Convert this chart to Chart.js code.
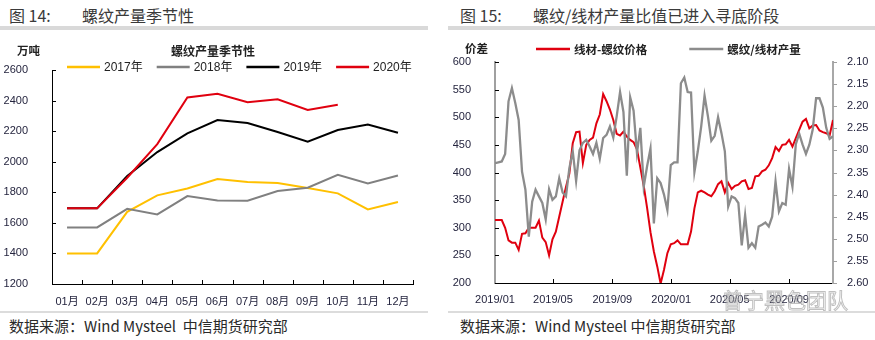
<!DOCTYPE html>
<html><head><meta charset="utf-8">
<script src="https://cdn.jsdelivr.net/npm/chart.js@4.4.1/dist/chart.umd.min.js"></script>
<style>
body{margin:0;background:#fff;}
#wrap{position:relative;width:875px;height:340px;overflow:hidden;font-family:'Noto Sans CJK SC','Noto Sans',sans-serif;}
.t{position:absolute;white-space:nowrap;line-height:1;}
.h{font-size:16px;color:#3a3a3a;top:7px;}
.src{font-size:15px;color:#2a2a2a;top:318px;}
.rule{position:absolute;}
.ax{font-size:11.5px;font-weight:bold;color:#222;top:45px;}
canvas{position:absolute;}
</style></head>
<body><div id="wrap">
<div class="t h" style="left:9px;">图 14:</div>
<div class="t h" style="left:82px;">螺纹产量季节性</div>
<div class="t h" style="left:460px;">图 15:</div>
<div class="t h" style="left:533px;">螺纹/线材产量比值已进入寻底阶段</div>
<div class="rule" style="left:0;top:26px;width:428px;height:4px;background:#d9d9d9;"></div>
<div class="rule" style="left:448px;top:26px;width:427px;height:4px;background:#d9d9d9;"></div>
<div class="rule" style="left:0;top:311px;width:428px;height:2px;background:#dcdcdc;"></div>
<div class="rule" style="left:448px;top:311px;width:427px;height:2px;background:#dcdcdc;"></div>
<div class="t src" style="left:9px;">数据来源：Wind Mysteel&nbsp; 中信期货研究部</div>
<div class="t src" style="left:460px;">数据来源：Wind Mysteel 中信期货研究部</div>
<canvas id="c1" width="430" height="275" style="left:0;top:38px;"></canvas>
<canvas id="c2" width="435" height="275" style="left:440px;top:38px;"></canvas>
<div class="t ax" style="left:17px;">万吨</div>
<div class="t ax" style="left:465px;top:43px;">价差</div>
<div class="t" style="left:722px;top:289px;font-size:21px;color:rgba(255,255,255,0.3);-webkit-text-stroke:1px rgba(140,140,140,0.55);">曾宁黑色团队</div>
</div>
<script>
// ---------- data: chart 1 (螺纹产量季节性, 万吨) ----------
const months = ['01月','02月','03月','04月','05月','06月','07月','08月','09月','10月','11月','12月'];
const s2017 = [1400,1400,1672,1780,1825,1887,1867,1860,1828,1793,1688,1736];
const s2018 = [1570,1570,1692,1655,1775,1747,1745,1808,1830,1915,1858,1910];
const s2019 = [1695,1695,1906,2063,2185,2273,2253,2194,2131,2207,2244,2190];
const s2020 = [1695,1695,1895,2115,2420,2444,2389,2409,2338,2373];
const yTicks1 = [1200,1400,1600,1800,2000,2200,2400,2600];

// ---------- data: chart 2 (weekly, from 2019/01) ----------
const weekStart = '2019/01/01';
const spread = [314,314,314,300,277,273,273,260,289,290,300,300,300,313,282,274,250,279,293,320,
  347,374,398,453,473,474,417,450,459,463,489,505,542,529,514,495,470,467,474,465,
  459,455,442,409,376,336,292,257,230,199,224,254,270,272,277,270,270,270,293,335,
  364,367,364,360,357,366,379,384,364,381,370,376,378,384,386,370,372,393,394,402,
  405,413,426,446,439,450,451,459,447,462,477,492,497,480,485,486,476,473,471,467,495];
const ratio = [2.329,2.327,2.325,2.308,2.189,2.159,2.193,2.231,2.348,2.389,2.495,2.416,2.389,2.404,2.419,2.456,2.388,2.412,2.404,2.363,
  2.395,2.404,2.340,2.302,2.369,2.300,2.283,2.276,2.291,2.308,2.283,2.319,2.272,2.265,2.246,2.271,2.223,2.168,2.213,2.357,
  2.180,2.210,2.306,2.249,2.382,2.336,2.296,2.465,2.363,2.374,2.400,2.435,2.333,2.327,2.327,2.148,2.135,2.168,2.169,2.349,
  2.302,2.246,2.176,2.223,2.278,2.267,2.225,2.261,2.302,2.427,2.404,2.408,2.419,2.515,2.446,2.520,2.510,2.520,2.472,2.468,
  2.463,2.472,2.450,2.370,2.438,2.419,2.423,2.342,2.382,2.286,2.262,2.287,2.308,2.287,2.253,2.182,2.182,2.203,2.249,2.274,2.268];
const xTickLabels2 = ['2019/01','2019/05','2019/09','2020/01','2020/05','2020/09'];
const yTicksL2 = [200,250,300,350,400,450,500,550,600];
const yTicksR2 = [2.10,2.15,2.20,2.25,2.30,2.35,2.40,2.45,2.50,2.55,2.60];

// ---------- helpers ----------
const t0 = new Date(weekStart).getTime();
const WEEK = 7*24*3600*1000;
const xTickPos2 = xTickLabels2.map(s => (new Date(s + '/01').getTime() - t0) / WEEK);
const tickFont = {family:"'Liberation Sans','Noto Sans CJK SC',sans-serif", size:11};
const tickColor = '#25253f';

const decor = {
  id:'decor',
  beforeDatasetsDraw(chart, args, o){
    const ctx = chart.ctx;
    (o.marks||[]).forEach(m => {
      const s = chart.scales[m.scale];
      ctx.save(); ctx.strokeStyle = m.color; ctx.lineWidth = 1; ctx.beginPath();
      if (s.isHorizontal()) {
        let xs;
        if (m.bounds) { const n = s.ticks.length, st = s.width / n; xs = []; for (let k=1;k<=n;k++) xs.push(s.left + k*st); }
        else xs = s.ticks.map(t => s.getPixelForValue(t.value)).filter(x => x > s.left + 1);
        xs.forEach(x => { const xx = Math.round(x)+0.5; ctx.moveTo(xx, s.top); ctx.lineTo(xx, s.top - m.len); });
      } else {
        const x0 = s.position === 'left' ? s.right : s.left;
        s.ticks.forEach(t => { const y = Math.round(s.getPixelForValue(t.value))+0.5; ctx.moveTo(x0, y); ctx.lineTo(x0 + m.dir*m.len, y); });
      }
      ctx.stroke(); ctx.restore();
    });
  },
  afterDraw(chart, args, o){
    const L = o.legend; if (!L) return;
    const ctx = chart.ctx; ctx.save();
    ctx.font = L.font; ctx.textBaseline = 'middle'; ctx.fillStyle = L.textColor;
    let x = L.x;
    chart.data.datasets.forEach(d => {
      ctx.strokeStyle = d.borderColor; ctx.lineWidth = 2.5;
      ctx.beginPath(); ctx.moveTo(x, L.y); ctx.lineTo(x + L.line, L.y); ctx.stroke();
      x += L.line + L.gap;
      ctx.fillText(d.label, x, L.y + 0.5);
      x += ctx.measureText(d.label).width + L.space;
    });
    if (L.title) { ctx.font = L.title.font; ctx.textAlign = 'center'; ctx.fillStyle = '#222'; ctx.fillText(L.title.text, L.title.x, L.title.y); }
    ctx.restore();
  }
};

// ---------- chart 1 ----------
new Chart(document.getElementById('c1'), {
  type:'line',
  data:{ labels: months, datasets:[
    {label:'2017年', data:s2017, borderColor:'#FFC000', order:4},
    {label:'2018年', data:s2018, borderColor:'#808080', order:3},
    {label:'2019年', data:s2019, borderColor:'#000000', order:2},
    {label:'2020年', data:s2020, borderColor:'#E0000F', order:1}
  ].map(d => Object.assign({borderWidth:2, pointRadius:0, tension:0, fill:false}, d))},
  options:{
    responsive:false, animation:false, devicePixelRatio:1,
    layout:{padding:{top:32,right:17,left:0,bottom:0}},
    plugins:{legend:{display:false}, tooltip:{enabled:false},
      decor:{
        marks:[{scale:'y',dir:1,len:4,color:'#000'},{scale:'x',bounds:true,len:4,color:'#000'}],
        legend:{x:67,y:29,line:33,gap:4,space:14,font:"12px 'Liberation Sans','Noto Sans CJK SC',sans-serif",textColor:'#222',
          title:{text:'螺纹产量季节性',x:213,y:13,font:"bold 12px 'Noto Sans CJK SC',sans-serif"}}
      }},
    scales:{
      x:{type:'category', offset:true, grid:{display:false}, border:{display:true,color:'#000',width:1},
         ticks:{font:tickFont,color:tickColor,padding:3,maxRotation:0,autoSkip:false},
         afterFit(s){ s.height = 29; }},
      y:{min:1200,max:2600, grid:{display:false}, border:{display:true,color:'#000',width:1},
         afterBuildTicks(s){ s.ticks = yTicks1.map(v => ({value:v})); },
         ticks:{font:tickFont,color:tickColor,padding:16, callback(v){ return String(v); }},
         afterFit(s){ s.width = 52; }}
    }
  },
  plugins:[decor]
});

// ---------- chart 2 ----------
new Chart(document.getElementById('c2'), {
  type:'line',
  data:{ datasets:[
    {label:'线材-螺纹价格', data:spread.map((v,i)=>({x:i,y:v})), borderColor:'#E0000F', yAxisID:'y', order:2, borderWidth:2},
    {label:'螺纹/线材产量', data:ratio.map((v,i)=>({x:i,y:v})), borderColor:'#8C8C8C', yAxisID:'y2', order:1, borderWidth:2.3}
  ].map(d => Object.assign({pointRadius:0, tension:0, fill:false}, d))},
  options:{
    responsive:false, animation:false, devicePixelRatio:1,
    layout:{padding:{top:24,right:0,left:0,bottom:0}},
    plugins:{legend:{display:false}, tooltip:{enabled:false},
      decor:{
        marks:[{scale:'y',dir:1,len:4,color:'#000'},{scale:'x',len:4,color:'#000'},{scale:'y2',dir:1,len:4,color:'#a0a0a0'}],
        legend:{x:96,y:11,line:34,gap:4,space:42,font:"bold 11.5px 'Noto Sans CJK SC',sans-serif",textColor:'#222'}
      }},
    scales:{
      x:{type:'linear', min:0, max:spread.length-1, grid:{display:false}, border:{display:true,color:'#000',width:1},
         afterBuildTicks(s){ s.ticks = xTickPos2.map(v => ({value:v})); },
         ticks:{font:tickFont,color:tickColor,padding:2,maxRotation:0,autoSkip:false,
           callback(v){ const k = xTickPos2.findIndex(p => Math.abs(p - v) < 1e-6); return k >= 0 ? xTickLabels2[k] : ''; }},
         afterFit(s){ s.height = 30; }},
      y:{position:'left', min:200, max:600, grid:{display:false}, border:{display:true,color:'#a0a0a0',width:2},
         afterBuildTicks(s){ s.ticks = yTicksL2.map(v => ({value:v})); },
         ticks:{font:tickFont,color:tickColor,padding:16, callback(v){ return String(v); }},
         afterFit(s){ s.width = 55; }},
      y2:{position:'right', reverse:true, min:2.10, max:2.60, grid:{display:false}, border:{display:true,color:'#a8a8a8',width:2},
         afterBuildTicks(s){ s.ticks = yTicksR2.map(v => ({value:v})); },
         ticks:{font:tickFont,color:tickColor,padding:6, callback(v){ return Number(v).toFixed(2); }},
         afterFit(s){ s.width = 42; }}
    }
  },
  plugins:[decor]
});
</script>
</body></html>
